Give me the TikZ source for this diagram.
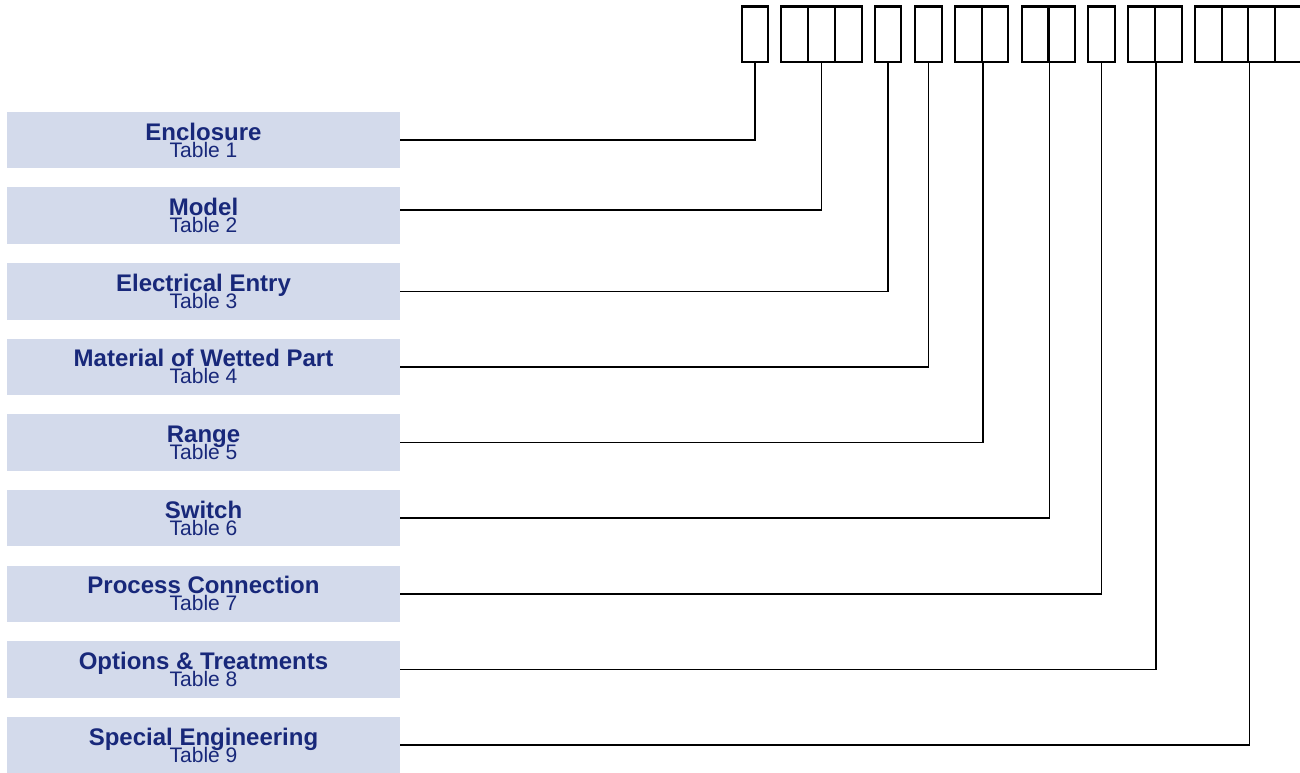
\documentclass[tikz,border=0pt]{standalone}
\usepackage{fontspec}
\setmainfont{Liberation Sans}
\usepackage{tikz}
\definecolor{tabnavy}{RGB}{24,40,122}
\definecolor{tabfill}{RGB}{211,218,235}
\lineskiplimit=-\maxdimen
\newcommand{\tabtext}[2]{{\bfseries #1}\\{\fontsize{21}{17}\selectfont #2}}
\begin{document}
\begin{tikzpicture}
	[x=1pt, y=-1pt,
	cell/.style={draw, line width=2.2pt, minimum width=26.5pt, minimum height=55.5pt, inner sep=0pt},
	tab/.style={fill=tabfill, text=tabnavy, font=\fontsize{24}{17}\selectfont, minimum width=393pt, minimum height=56.5pt, align=center, inner sep=0pt},
	link/.style={line width=1.4pt}]
	\useasboundingbox (0,0) rectangle (1300,773);
	% code cells
	\foreach \x/\n in {755/c1, 794.5/c2a, 821.5/c2b, 848.5/c2c, 888/c3, 928.5/c4,
		968.5/c5a, 995/c5b, 1035/c6a, 1062/c6b, 1101.5/c7, 1141.5/c8a, 1168.5/c8b,
		1208.5/c9a, 1235/c9b, 1261.5/c9c, 1288/c9d}
		\node[cell] (\n) at (\x,34.3) {};
	% tables
	\node[tab] (t1) at (203.5,140) {\tabtext{Enclosure}{Table 1}};
	\node[tab] (t2) at (203.5,215.6) {\tabtext{Model}{Table 2}};
	\node[tab] (t3) at (203.5,291.3) {\tabtext{Electrical Entry}{Table 3}};
	\node[tab] (t4) at (203.5,366.9) {\tabtext{Material of Wetted Part}{Table 4}};
	\node[tab] (t5) at (203.5,442.5) {\tabtext{Range}{Table 5}};
	\node[tab] (t6) at (203.5,518.1) {\tabtext{Switch}{Table 6}};
	\node[tab] (t7) at (203.5,593.8) {\tabtext{Process Connection}{Table 7}};
	\node[tab] (t8) at (203.5,669.4) {\tabtext{Options \& Treatments}{Table 8}};
	\node[tab] (t9) at (203.5,745) {\tabtext{Special Engineering}{Table 9}};
	% links
	\draw[link] ([yshift=5.5pt]t2.east) -| (c2b.south);
	\foreach \i/\c in {1/c1.south, 3/c3.south, 4/c4.south, 5/c5a.south east,
		6/c6a.south east, 7/c7.south, 8/c8a.south east, 9/c9b.south east}
		\draw[link] (t\i.east) -| (\c);
\end{tikzpicture}
\end{document}
